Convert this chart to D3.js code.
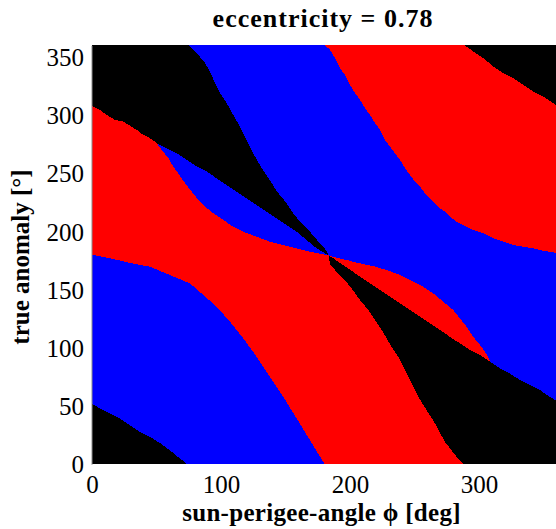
<!DOCTYPE html>
<html>
<head>
<meta charset="utf-8">
<script src="https://cdn.jsdelivr.net/npm/d3@7/dist/d3.min.js"></script>
<style>
  body { margin: 0; background: #fff; }
  svg { display: block; }
  .lbl { font-family: "Liberation Serif", "Times New Roman", Times, "DejaVu Serif", serif; fill: #000; }
</style>
</head>
<body>
<svg id="chart" width="556" height="529"></svg>
<script>
// Axis ticks
const phiTicks = [0, 100, 200, 300];
const nuTicks = [0, 50, 100, 150, 200, 250, 300, 350];

// Region boundaries in (sun-perigee-angle phi [deg], true anomaly [deg])
const crossing = [183.5, 179.5];

// black (below) | blue (above), lower-left
const curveA = [[0,52],[6,48],[14,43.5],[22,39],[29.5,33.5],[37,28],[45,23.5],[53,18],[60.5,12],[67,6],[74,0]];
// blue (below) | red (above)
const curveB = [[0,180],[14,177],[29.5,173],[45,169.7],[60.5,162.6],[76,155.4],[86.3,145.4],[96.7,135.3],[107,122.4],[117.3,108.1],[127.7,92.3],[138,75.1],[148.3,57.9],[158.7,39.3],[169,20.6],[179.3,2],[180.5,0]];
// red (left) | black (right), from the crossing down to nu = 0
const curveC = [crossing,[184.5,172],[188.4,166.9],[194.8,159.7],[201.3,151.1],[207.8,141.1],[214.2,132.5],[219.4,123.9],[224.6,115.3],[232.3,100.9],[237.4,92.3],[245.2,75.1],[252.9,57.9],[259.4,46.5],[266,35],[273.6,19.2],[282.7,6.3],[288,0]];
// black (left) | blue (right), from nu = 360 down to the crossing
const curveD = [[75,360],[81.2,353.3],[87.6,344.7],[91.5,337.5],[95.3,327.5],[99.2,318.9],[104.4,310.3],[109.5,300.2],[114.7,290.2],[118.6,281.5],[122.5,272.9],[126.4,264.3],[130.2,257.2],[134.1,250.1],[139.3,241.5],[144.4,232.9],[150.9,224.3],[156,215.7],[161.2,208.4],[169,199.8],[176.7,189.8],[181,184.5],crossing];
// black (above) | red (below), upper-left
const curveE = [[0,308],[6.2,304.5],[11.4,300.2],[17.8,295.9],[24.3,294.5],[29.5,290.8],[34.7,287.3],[39.8,283],[45,280.2],[50.2,275.9]];
// black (above) | blue wedge (below)
const curveF = [[50.2,275.9],[57.9,271.6],[65.6,267.3],[73.4,261.5],[81.2,255.8],[88.9,251.5],[96.7,245.7],[104.4,240],[112.2,234.2],[119.9,228.5],[127.7,222.8],[135.4,217],[143.2,211.3],[150.9,205.6],[158.7,199.8],[166.4,192.7],[174.2,185.5],crossing];
// blue wedge (above) | red (below)
const curveG = [[50.2,275.9],[54,270.1],[59.2,263],[63,255.8],[66.9,250.1],[72.1,241.5],[77.3,234.2],[82.4,227.1],[87.6,221.3],[94,215.7],[101.8,209.9],[109.5,204.1],[117.3,199.8],[127.7,195.5],[138,191.2],[148.3,188.4],[158.7,185.5],[169,182.6],crossing];
// blue (left) | red (right), upper-right
const curveH = [[180.6,360],[184.5,356.1],[188.4,349],[192.2,340.4],[196.1,334.6],[200,326],[203.9,318.9],[207.8,313.1],[211.6,306],[215.5,300.2],[219.4,293.1],[223.3,287.3],[227.1,278.7],[231,272.9],[234.9,267.3],[238.8,261.5],[242.6,254.4],[246.5,248.6],[250.4,242.8],[254.3,238.5],[258.1,232.9],[262,228.6],[265.9,224.3],[269.8,219.9],[273.6,217],[277.5,212.7],[282.7,208.4],[287.8,205.6],[295.6,201.3],[303.3,198.4],[311.1,194.1],[318.8,191.2],[326.6,188.4],[334.3,186.9],[342,185.5],[349.8,183.5],[357.6,182.1],[360,181.5]];
// red (left) | black (right), top-right corner
const curveI = [[289,360],[295.6,354.7],[303.3,349],[311.1,341.8],[318.8,336.1],[326.6,331.8],[334.3,326],[342,320.3],[349.8,316],[357.6,310.3],[360,308.5]];
// lens: lower edge (black below) and upper edge (blue above)
const lensLower = [crossing,[187,177],[192.2,173],[200,167.2],[207.8,161.1],[215.5,155.4],[223.3,149.7],[231,143.9],[238.8,138.2],[246.5,132.5],[254.3,126.7],[262,121],[269.8,115.3],[277.5,109.5],[285.3,103.8],[293,98.1],[300.8,93.8],[309,88]];
const lensUpper = [[187.5,178],[197.4,175.5],[207.8,172.6],[218.1,170.3],[228.4,166.9],[238.8,162.6],[249.1,156.8],[256.8,152.5],[264.6,146.8],[272.3,139.6],[280.1,132.5],[285.3,125.3],[290.4,118.1],[295.6,109.5],[300.8,102.4],[304.7,96.6],[309,88]];
// black (below) | blue (above), right side
const curveJ = [[309,88],[316.3,82.3],[324,78],[331.8,72.3],[339.5,68],[347.3,63.7],[355,57.9],[360,54.5]];

const colors = { black: "#000000", blue: "#0000ff", red: "#ff0000" };

const svg = d3.select("#chart");
const x = d3.scaleLinear().domain([0, 360]).range([92, 556.4]);
const y = d3.scaleLinear().domain([0, 360]).range([464.3, 45.3]);

const rev = a => a.slice().reverse();
const area = d3.line().x(d => x(d[0])).y(d => y(d[1]));

// Painted back to front; later layers overlap earlier ones along shared edges.
const regions = [
  { c: colors.black, pts: [[0,0],[360,0],[360,360],[0,360]] },
  { c: colors.red,   pts: [...curveA, [288,0], ...rev(curveC), ...rev(curveF), ...rev(curveE)] },
  { c: colors.blue,  pts: [...curveA, ...rev(curveB)] },
  { c: colors.blue,  pts: [...curveF, ...rev(curveG)] },
  { c: colors.blue,  pts: [...curveD, ...lensLower, ...curveJ, [360,308.5], ...rev(curveI)] },
  { c: colors.red,   pts: [...curveH, [360,308.5], ...rev(curveI)] },
  { c: colors.red,   pts: [...lensUpper, ...rev(lensLower)] }
];

const plot = svg.append("g");
plot.selectAll("path.region")
  .data(regions)
  .join("path")
  .attr("class", "region")
  .attr("d", d => area(d.pts) + "Z")
  .attr("fill", d => d.c)
  .attr("shape-rendering", "crispEdges");

// Axes
const xAxis = svg.append("g")
  .attr("transform", `translate(0,${y(0)})`)
  .call(d3.axisBottom(x).tickValues(phiTicks).tickSize(0).tickPadding(10.5).tickFormat(d3.format("d")));
xAxis.attr("font-family", null).attr("font-size", null);
xAxis.select(".domain").remove();
xAxis.selectAll("text").attr("class", "lbl").style("font-size", "25px");

const yAxis = svg.append("g")
  .attr("transform", `translate(${x(0) - 0.5},0)`)
  .call(d3.axisLeft(y).tickValues(nuTicks).tickSize(0).tickSizeOuter(0).tickPadding(7.5).tickFormat(d3.format("d")));
yAxis.attr("font-family", null).attr("font-size", null);
yAxis.select(".domain").attr("stroke", "#8c8c8c").attr("stroke-width", 1);
yAxis.selectAll("text").attr("class", "lbl").style("font-size", "25px").attr("dy", "0.34em");

// Titles
svg.append("text")
  .attr("class", "lbl")
  .attr("x", 323).attr("y", 27)
  .attr("text-anchor", "middle")
  .style("font-size", "26px").style("font-weight", "bold")
  .style("letter-spacing", "1px")
  .text("eccentricity = 0.78");

svg.append("text")
  .attr("class", "lbl")
  .attr("x", 321.5).attr("y", 521)
  .attr("text-anchor", "middle")
  .style("font-size", "25px").style("font-weight", "bold")
  .style("letter-spacing", "0.3px")
  .text("sun-perigee-angle ϕ [deg]");

svg.append("text")
  .attr("class", "lbl")
  .attr("transform", "translate(28.5,257) rotate(-90)")
  .attr("text-anchor", "middle")
  .style("font-size", "25px").style("font-weight", "bold")
  .text("true anomaly [°]");
</script>
</body>
</html>
